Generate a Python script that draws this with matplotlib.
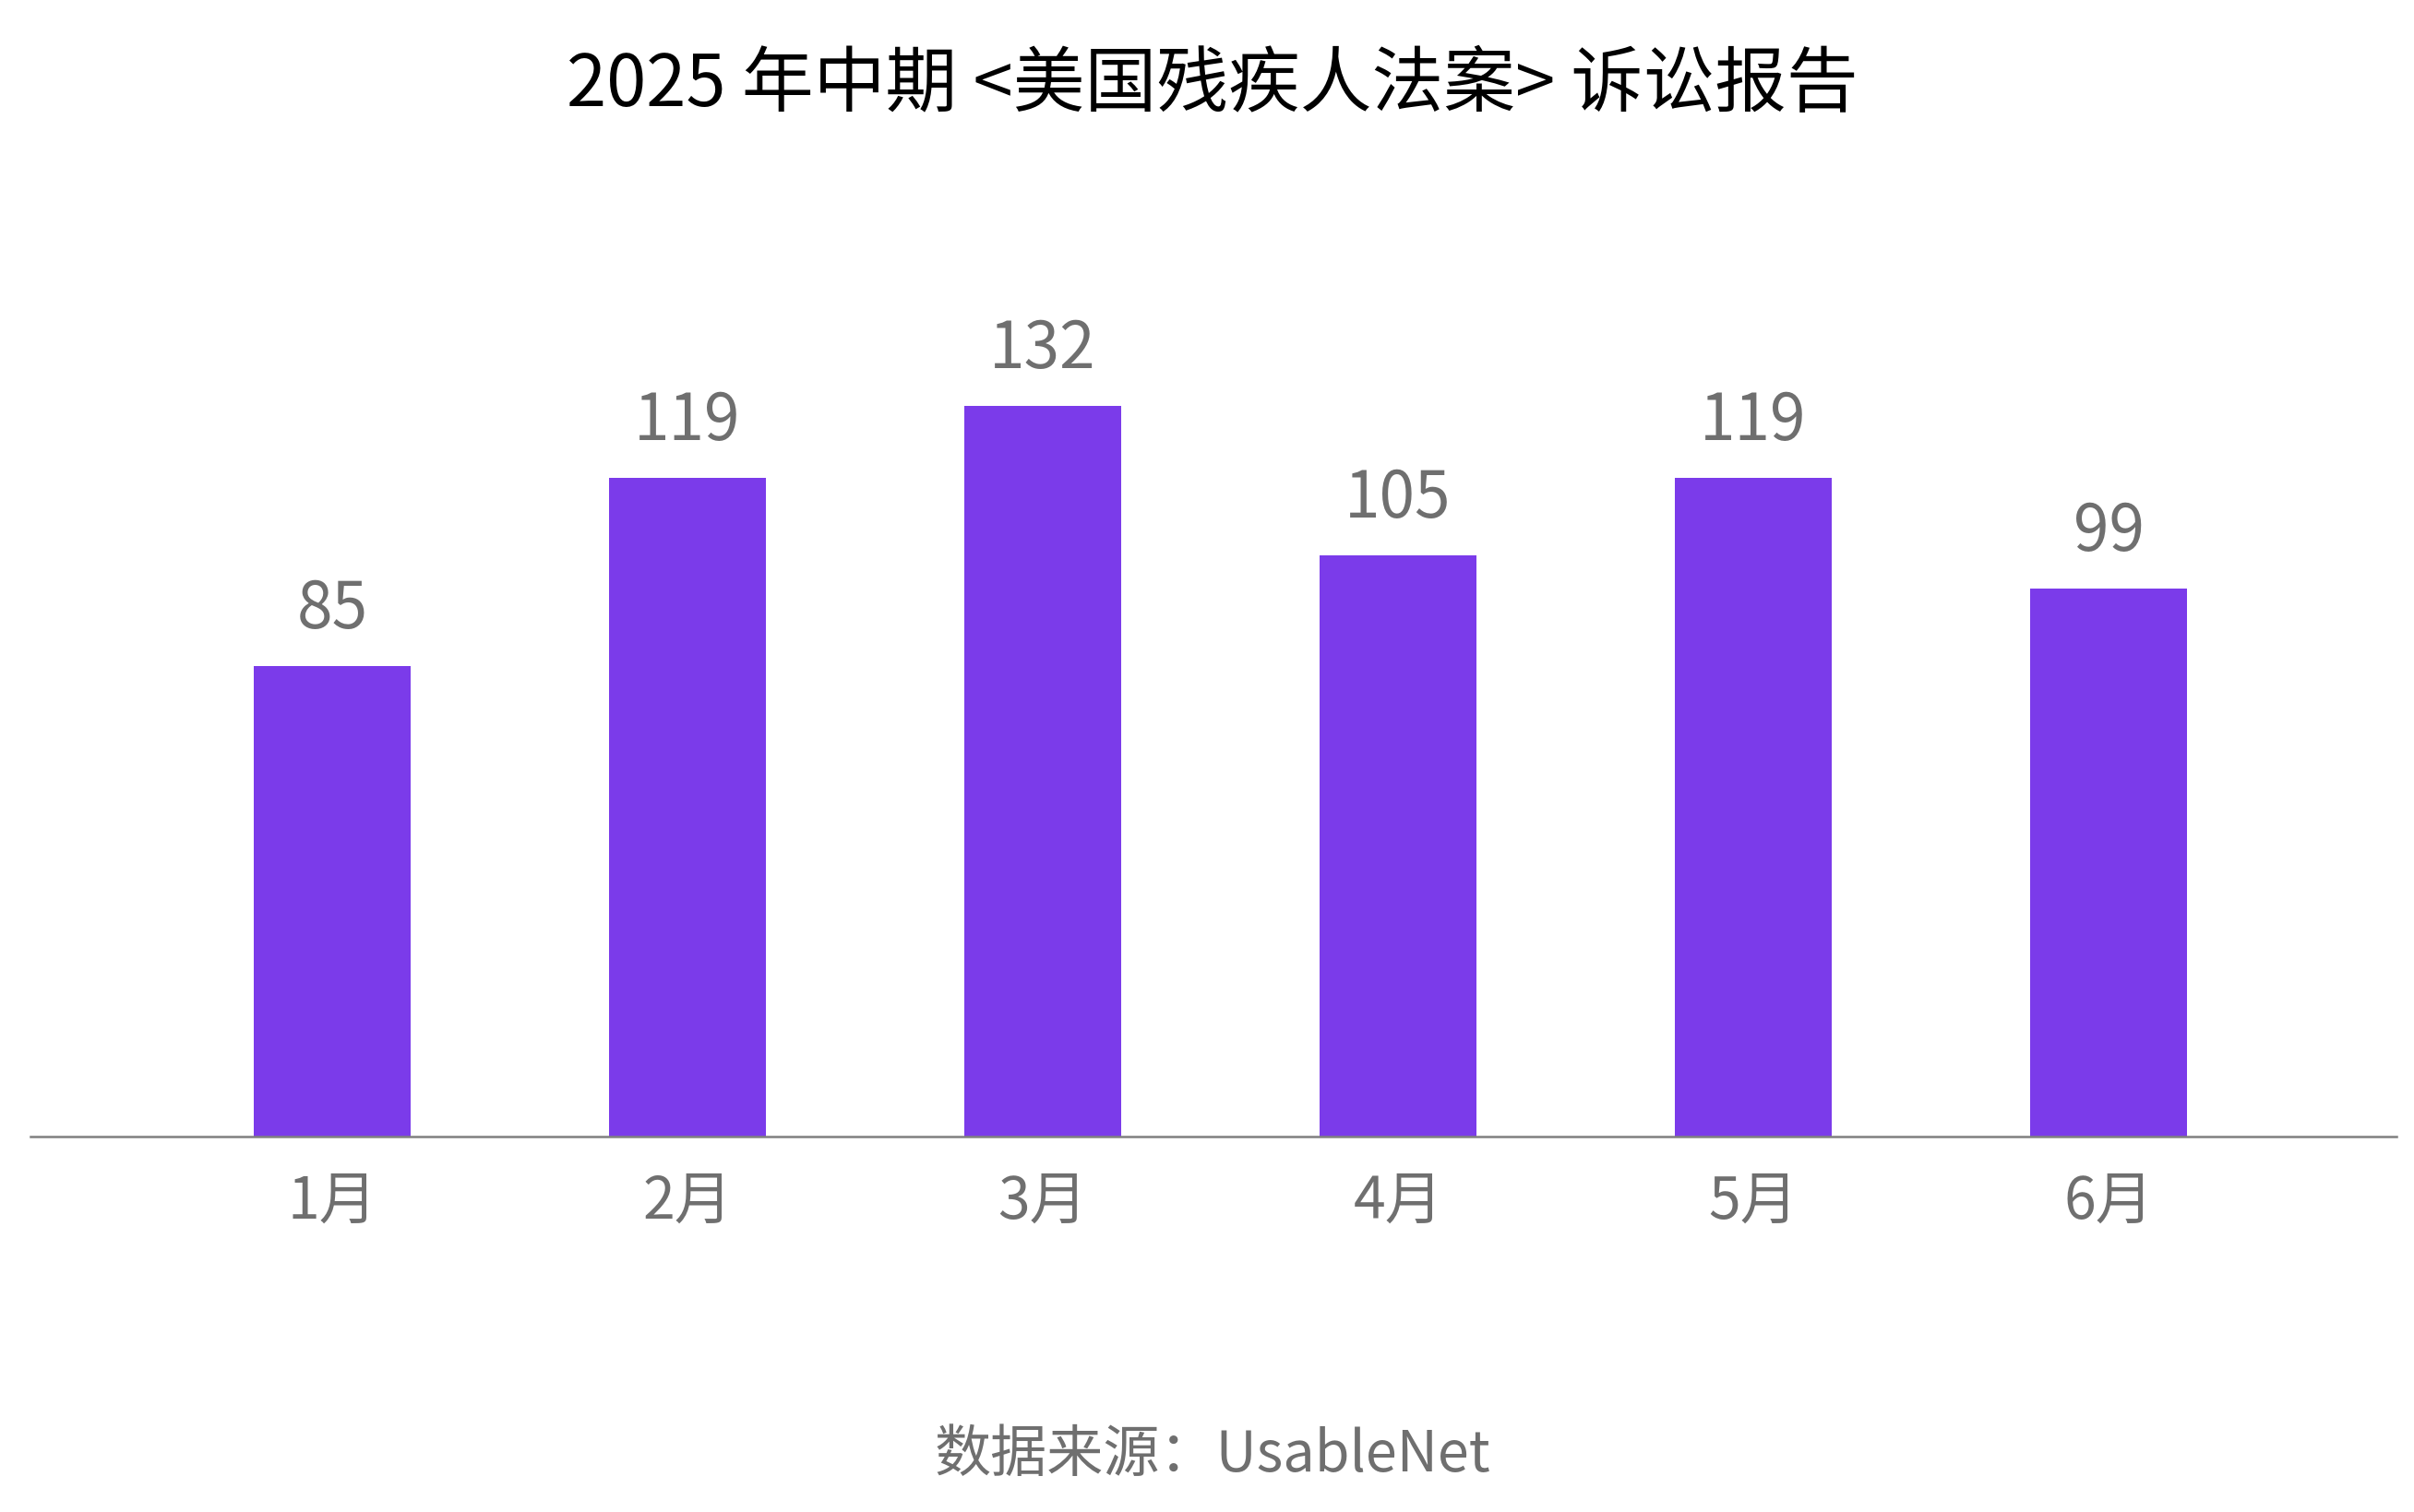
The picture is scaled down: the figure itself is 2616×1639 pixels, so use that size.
import matplotlib
matplotlib.use("Agg")
import matplotlib.pyplot as plt
import numpy as np

plt.rcParams['font.family'] = ['Noto Sans CJK SC', 'DejaVu Sans']

months = ["1月", "2月", "3月", "4月", "5月", "6月"]
cases = [85, 119, 132, 105, 119, 99]
title = "2025 年中期 <美国残疾人法案> 诉讼报告"
source = "数据来源：UsableNet"

bar_color = "#7b3bea"
gray = "#6f6f6f"

fig = plt.figure(figsize=(26.16, 16.40), dpi=100)
ax = fig.add_axes([0.0126, 0.2482, 0.9801, 0.5488])

x = np.arange(len(months))
bars = ax.bar(x, cases, width=0.44, color=bar_color, zorder=2)

for xi, v in zip(x, cases):
    ax.annotate(f"{v}", xy=(xi, v), xytext=(0, 19), textcoords="offset points",
                ha="center", va="bottom", fontsize=50, color=gray)

ax.set_xlim(-0.849, 5.81)
ax.set_ylim(0, 150)
ax.set_xticks(x)
ax.set_xticklabels(months, fontsize=45, color=gray)
ax.tick_params(axis="x", length=0, pad=27)
ax.set_yticks([])
for s in ["top", "right", "left"]:
    ax.spines[s].set_visible(False)
ax.spines["bottom"].set_color("#808080")
ax.spines["bottom"].set_linewidth(1.8)

fig.text(0.5023, 1 - 93 / 1640, title, ha="center", va="center", fontsize=56, color="black")
fig.text(0.5023, 1 - 1578 / 1640, source, ha="center", va="center", fontsize=44, color=gray)

fig.savefig("out.png", dpi=100, facecolor="white")
